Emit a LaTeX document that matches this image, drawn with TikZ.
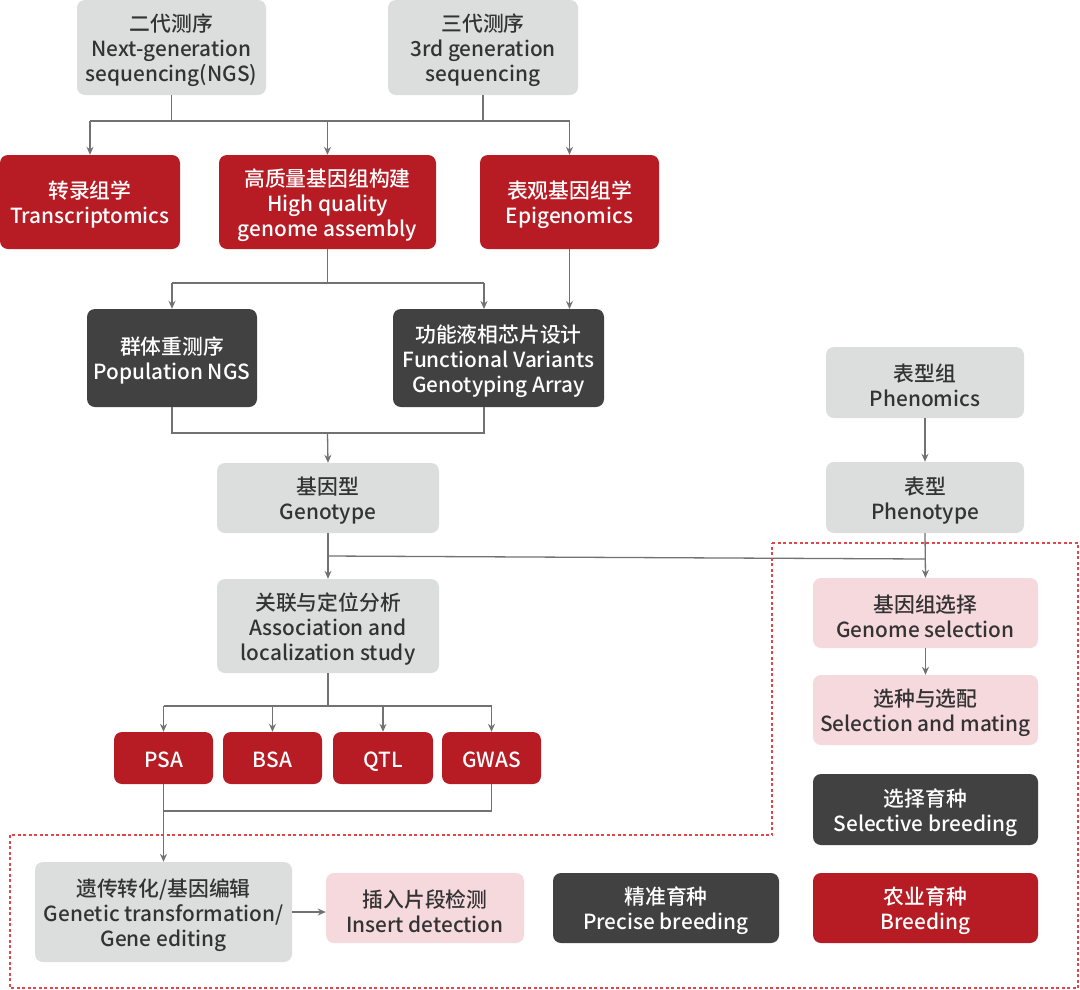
\documentclass[tikz,border=0pt]{standalone}
\usepackage{fontspec}
\setmainfont{Noto Sans CJK SC Medium}
\usetikzlibrary{arrows.meta}
\definecolor{cred}{HTML}{B71C24}
\definecolor{cdark}{HTML}{414141}
\definecolor{cgray}{HTML}{DCDDDD}
\definecolor{cpink}{HTML}{F6D9DD}
\definecolor{ctxt}{HTML}{333333}
\definecolor{cline}{HTML}{727272}
\definecolor{cdash}{HTML}{E0474C}
\newcommand\mystrutA{\rule{0pt}{23.5pt}}
\tikzset{
  base/.style={rounded corners=8pt, align=center, inner sep=0pt, anchor=center,
    font=\fontsize{20.8}{25}\selectfont},
  gbox/.style={base, fill=cgray, text=ctxt},
  rbox/.style={base, fill=cred, text=white},
  sbox/.style={rbox, execute at begin node={\rule{0pt}{23pt}},
    execute at end node={\rule[-5pt]{0pt}{5pt}}},
  dbox/.style={base, fill=cdark, text=white},
  pbox/.style={base, fill=cpink, text=ctxt},
  conn/.style={draw=cline, line width=1.3pt},
  arr/.style={conn, -{Stealth[length=8pt,width=7pt]}},
  border/.style={draw=cdash, line width=1.1pt, dash pattern=on 3pt off 2.5pt}
}
\begin{document}
\begin{tikzpicture}[x=1pt,y=-1pt]
\useasboundingbox (0,0) rectangle (1080,989);
% nodes
\node[gbox, minimum width=189pt, minimum height=95pt] (ngs) at (171.5,47.5) {\mystrutA 二代测序\\Next-generation\\sequencing(NGS)};
\node[gbox, minimum width=190pt, minimum height=95pt] (tgs) at (483,47.5) {\mystrutA 三代测序\\3rd generation\\sequencing};
\node[rbox, minimum width=180pt, minimum height=94pt] (trans) at (90,202) {\mystrutA 转录组学\\Transcriptomics};
\node[rbox, minimum width=217pt, minimum height=94pt] (hq) at (327.5,202) {\mystrutA 高质量基因组构建\\High quality\\genome assembly};
\node[rbox, minimum width=179pt, minimum height=94pt] (epi) at (569.5,202) {\mystrutA 表观基因组学\\Epigenomics};
\node[dbox, minimum width=170pt, minimum height=98pt] (pop) at (172,358) {\mystrutA 群体重测序\\Population NGS};
\node[dbox, minimum width=211pt, minimum height=98pt] (fva) at (498.5,358) {\mystrutA 功能液相芯片设计\\Functional Variants\\Genotyping Array};
\node[gbox, minimum width=222pt, minimum height=70pt] (geno) at (328,498) {\mystrutA 基因型\\Genotype};
\node[gbox, minimum width=198pt, minimum height=71pt] (phm) at (925,382.5) {\mystrutA 表型组\\Phenomics};
\node[gbox, minimum width=198pt, minimum height=71pt] (pht) at (925,497.5) {\mystrutA 表型\\Phenotype};
\node[gbox, minimum width=222pt, minimum height=94pt] (assoc) at (328,626) {\mystrutA 关联与定位分析\\Association and\\localization study};
\node[sbox, minimum width=99pt, minimum height=52pt] (psa) at (163.5,758) {PSA};
\node[sbox, minimum width=99pt, minimum height=52pt] (bsa) at (272.5,758) {BSA};
\node[sbox, minimum width=100pt, minimum height=52pt] (qtl) at (383,758) {QTL};
\node[sbox, minimum width=99pt, minimum height=52pt] (gwas) at (491.5,758) {GWAS};
\node[pbox, minimum width=225pt, minimum height=70pt] (gs) at (925.5,613) {\mystrutA 基因组选择\\Genome selection};
\node[pbox, minimum width=225pt, minimum height=70pt] (sm) at (925.5,710) {\mystrutA 选种与选配\\Selection and mating};
\node[dbox, minimum width=225pt, minimum height=71pt] (sb) at (925.5,809.5) {\mystrutA 选择育种\\Selective breeding};
\node[rbox, minimum width=225pt, minimum height=70pt] (br) at (925.5,908) {\mystrutA 农业育种\\Breeding};
\node[gbox, minimum width=257pt, minimum height=100pt] (gt) at (163.5,912) {\mystrutA 遗传转化/基因编辑\\Genetic transformation/\\Gene editing};
\node[pbox, minimum width=198pt, minimum height=70pt] (ins) at (425,908) {\mystrutA 插入片段检测\\Insert detection};
\node[dbox, minimum width=226pt, minimum height=70pt] (pb) at (666,908) {\mystrutA 精准育种\\Precise breeding};
% junction coordinates
\coordinate (j1) at (171.5,121);
\coordinate (j2) at (483,121);
\coordinate (j1l) at (90,121);
\coordinate (j1r) at (569.5,121);
\coordinate (j3) at (327.5,283);
\coordinate (j4) at (327.5,433);
\coordinate (j5) at (328,556);
\coordinate (j6) at (925,559);
\coordinate (j7) at (328,706);
\coordinate (j8) at (163.5,811);
% connectors
\draw[conn] (ngs.south) -- (j1);
\draw[conn] (tgs.south) -- (j2);
\draw[conn] (j1l) -- (j1r);
\draw[arr] (j1l) -- (trans.north);
\draw[arr] (hq.north |- j1) -- (hq.north);
\draw[arr] (j1r) -- (epi.north);
\draw[conn] (hq.south) -- (j3);
\draw[conn] (pop.north |- j3) -- (484,283);
\draw[arr] (pop.north |- j3) -- (pop.north);
\draw[arr] (484,283) -- (484,309);
\draw[arr] (epi.south) -- (569.5,309);
\draw[conn] (pop.south) -- (pop.south |- j4) -- (484,433) -- (484,407);
\draw[arr] (j4) -- (geno.north);
\draw[arr] (geno.south) -- (assoc.north);
\draw[conn] (j5) -- (j6);
\draw[arr] (phm.south) -- (pht.north);
\draw[arr] (pht.south) -- (gs.north);
\draw[arr] (gs.south) -- (sm.north);
\draw[conn] (assoc.south) -- (j7);
\draw[conn] (psa.north |- j7) -- (gwas.north |- j7);
\draw[arr] (psa.north |- j7) -- (psa.north);
\draw[arr] (bsa.north |- j7) -- (bsa.north);
\draw[arr] (qtl.north |- j7) -- (qtl.north);
\draw[arr] (gwas.north |- j7) -- (gwas.north);
\draw[conn] (gwas.south) -- (gwas.south |- j8) -- (j8);
\draw[arr] (psa.south) -- (gt.north);
\draw[arr] (gt.east |- 0,912) -- (ins.west |- 0,912);
% dashed region
\draw[border] (772,543) -- (1078,543) -- (1078,988) -- (10,988) -- (10,835) -- (772,835) -- cycle;
\end{tikzpicture}
\end{document}
